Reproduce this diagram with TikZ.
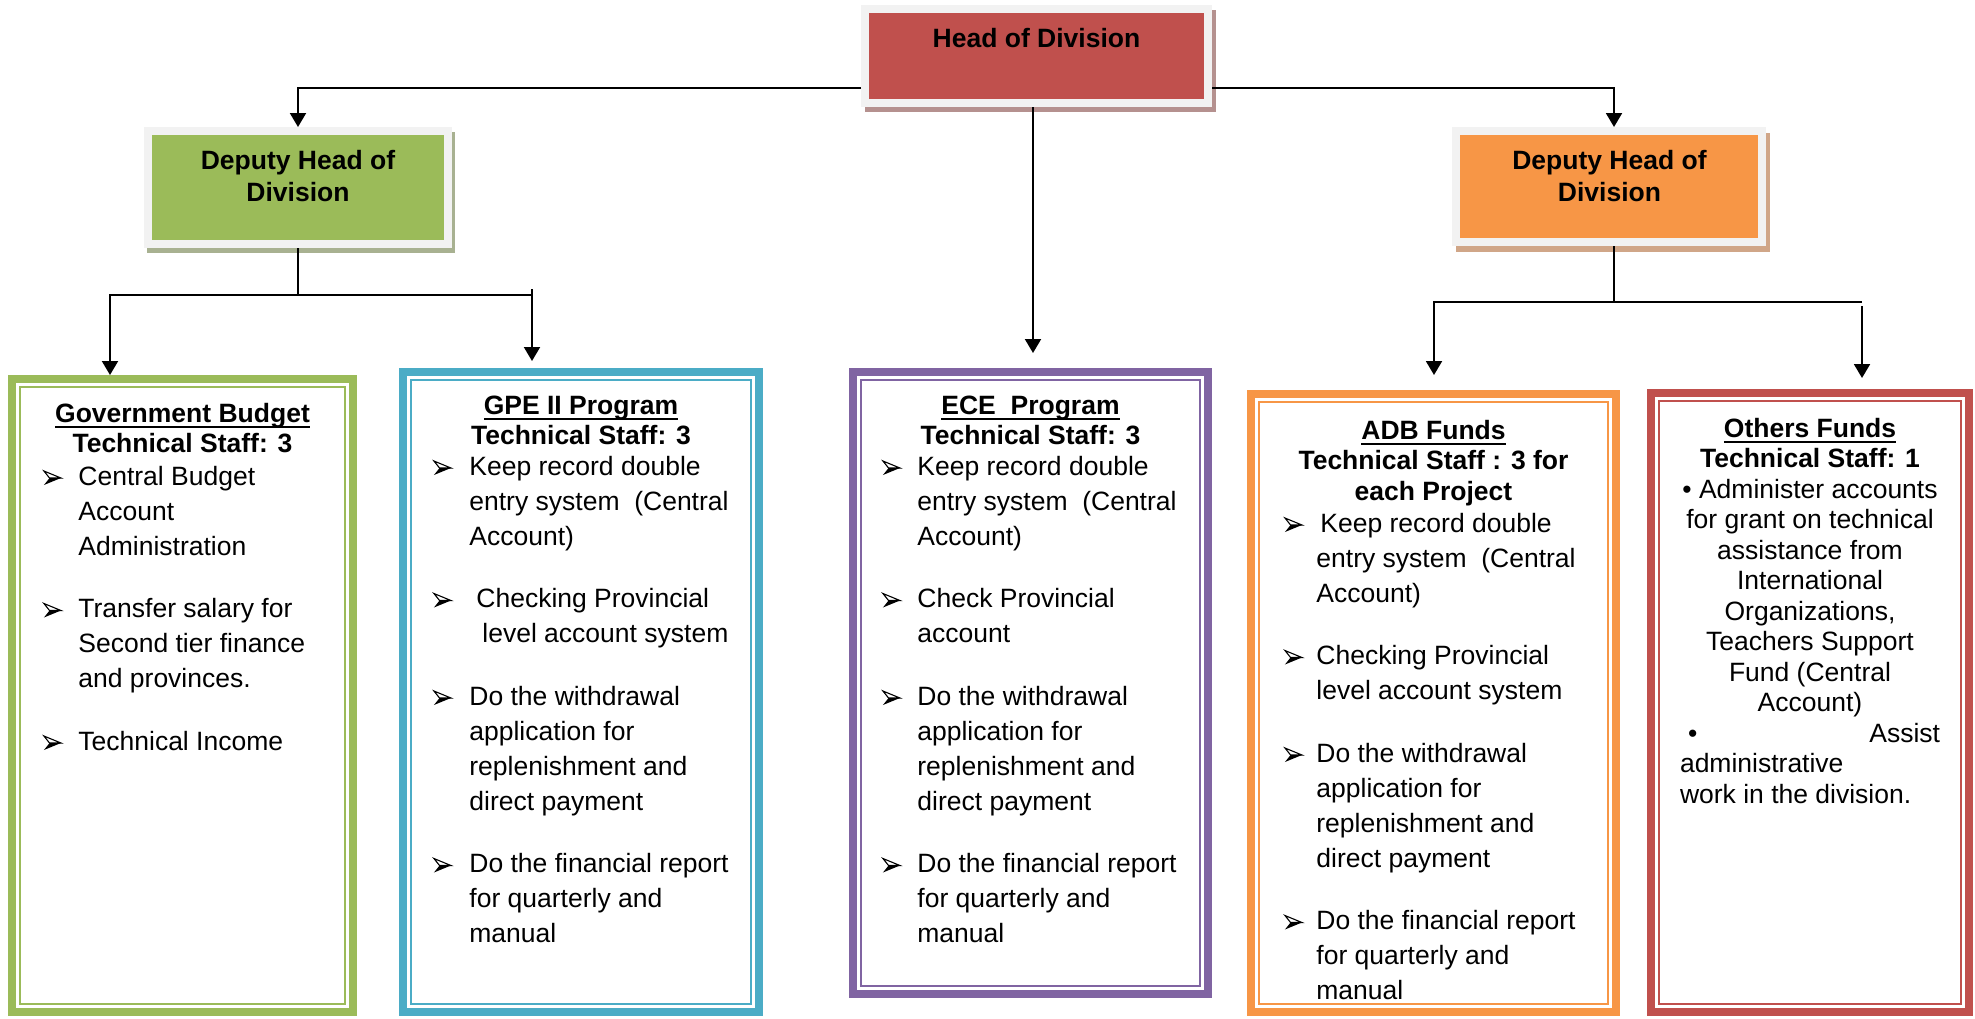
\documentclass[tikz,border=0pt]{standalone}
\usepackage{fontspec}
\setmainfont{Liberation Sans}
\usetikzlibrary{arrows.meta,calc}
\pgfdeclarelayer{background}
\pgfsetlayers{background,main}

\definecolor{hdred}{HTML}{C0504D}
\definecolor{dgreen}{HTML}{9BBB59}
\definecolor{dorange}{HTML}{F79646}
\definecolor{pblue}{HTML}{4BACC6}
\definecolor{ppurple}{HTML}{8064A2}
\definecolor{framegray}{HTML}{F2F2F2}
\definecolor{hdshadow}{HTML}{B5918F}
\definecolor{gshadow}{HTML}{A8B191}
\definecolor{oshadow}{HTML}{D0A688}

% underline sitting just below the baseline
\newcommand{\ulbox}[1]{\leavevmode\sbox0{#1}\rlap{\rule[-3.2pt]{\wd0}{1.1pt}}\usebox0}
% 3-D arrowhead bullet: outlined upper half, solid lower half
\newcommand{\pointer}{\tikz[baseline=0pt,x=1pt,y=1pt]{%
  \fill[black] (0,0) -- (8.5,3.5) -- (2.8,3.5) -- cycle;
  \draw[black, line width=0.55pt, line join=miter] (0,7) -- (8.5,3.5) -- (2.8,3.5) -- cycle;}}
% #1 hanging indent, #2 first-line text offset, #3 text
\newcommand{\hitem}[3]{\par\noindent\hangindent=#1\hangafter=1\makebox[#2][l]{\pointer}#3\par}
\newcommand{\itemgap}{\vspace{13.75pt}}

\tikzset{
  topbox/.style={draw=framegray, line width=4pt, inner sep=0pt},
  outbox/.style={draw=#1, line width=4pt, fill=white, inner sep=0pt},
  conn/.style={draw=black, line width=1pt, line join=miter},
  arr/.style={conn, -{Triangle[length=7pt,width=8pt]}},
  txt/.style={inner sep=0pt, anchor=base},
  listtxt/.style={inner sep=0pt, anchor=base west},
}

\begin{document}
\begin{tikzpicture}[x=0.5pt,y=-0.5pt]
\useasboundingbox (0,0) rectangle (1975,1018);

% ---- top level boxes
\node[topbox, fill=hdred, minimum width=171.5pt, minimum height=47pt] (head) at (1036.5,56) {};
\node[topbox, fill=dgreen, minimum width=150pt, minimum height=56.5pt] (gdep) at (298,187.5) {};
\node[topbox, fill=dorange, minimum width=153pt, minimum height=55.5pt] (odep) at (1609,186.5) {};

\begin{pgfonlayer}{background}
  \fill[hdshadow] ($(head.north west)+(4,5)$) rectangle ($(head.south east)+(4,5)$);
  \fill[gshadow] ($(gdep.north west)+(3,5)$) rectangle ($(gdep.south east)+(3,5)$);
  \fill[oshadow] ($(odep.north west)+(4,6)$) rectangle ($(odep.south east)+(4,6)$);
\end{pgfonlayer}

% ---- unit boxes (thick-thin border)
\node[outbox=dgreen, minimum width=170.5pt, minimum height=316.5pt] (gb) at (182.5,695.5) {};
\node[outbox=pblue, minimum width=178pt, minimum height=320pt] (gpe) at (581,692) {};
\node[outbox=ppurple, minimum width=177.5pt, minimum height=311pt] (ece) at (1030.5,683) {};
\node[outbox=dorange, minimum width=182.5pt, minimum height=309pt] (adb) at (1433.5,703) {};
\node[outbox=hdred, minimum width=159pt, minimum height=309.5pt] (oth) at (1810,702.5) {};
\foreach \n/\c in {gb/dgreen, gpe/pblue, ece/ppurple, adb/dorange, oth/hdred}
  \draw[\c, line width=1.2pt] ($(\n.north west)+(12,12)$) rectangle ($(\n.south east)+(-12,-12)$);

% ---- connectors
\draw[arr] ($(head.west)+(0,32)$) -| (gdep.north);
\draw[arr] ($(head.east)+(0,32)$) -| ($(odep.north)+(5,0)$);
\draw[arr, shorten >=7.5pt] ([xshift=-1.75pt]head.south) -- ([xshift=-1.75pt]head.south |- ece.north);

\coordinate (gsplit) at ($(gdep.south)+(0,47)$);
\coordinate (gL) at (110,295);
\coordinate (gR) at (532,295);
\draw[conn] (gdep.south) -- (gsplit);
\draw[arr] (gR) -- (gL) -- (gL |- gb.north);
\draw[arr, shorten >=3.5pt] ($(gR)+(0,-6)$) -- (gR |- gpe.north);

\coordinate (osplit) at ($(odep.south)+(5,56)$);
\coordinate (oL) at (1434,302);
\coordinate (oR) at (1862,302);
\draw[conn] ($(odep.south)+(5,0)$) -- (osplit);
\draw[arr, shorten >=7.5pt] (oR) -- (oL) -- (oL |- adb.north);
\draw[arr, shorten >=5.5pt] ($(oR)+(0,4)$) -- (oR |- oth.north);

% ---- top level texts
\node[txt, font=\bfseries\fontsize{13.25}{16}\selectfont] (headtxt) at (1036.5,47) {Head of Division};
\node[txt] (gdeptxt) at (298,169) {\begin{minipage}[t]{150pt}\centering\bfseries\fontsize{13.25}{16}\selectfont
  Deputy Head of\\Division\end{minipage}};
\node[txt] (odeptxt) at (1609.5,169) {\begin{minipage}[t]{150pt}\centering\bfseries\fontsize{13.25}{16}\selectfont
  Deputy Head of\\Division\end{minipage}};

% ---- unit titles
\node[txt] (gbtitle) at (182.5,422) {\begin{minipage}[t]{170pt}\centering\bfseries\fontsize{13.25}{15}\selectfont
  \ulbox{Government Budget}\\Technical Staff: 3\end{minipage}};
\node[txt] (gpetitle) at (581,414) {\begin{minipage}[t]{170pt}\centering\bfseries\fontsize{13.25}{15}\selectfont
  \ulbox{GPE II Program}\\Technical Staff: 3\end{minipage}};
\node[txt] (ecetitle) at (1030.5,414) {\begin{minipage}[t]{170pt}\centering\bfseries\fontsize{13.25}{15}\selectfont
  \ulbox{ECE\ \ Program}\\Technical Staff: 3\end{minipage}};
\node[txt] (adbtitle) at (1433.5,439) {\begin{minipage}[t]{170pt}\centering\bfseries\fontsize{13.25}{15.25}\selectfont
  \ulbox{ADB Funds}\\Technical Staff : 3 for\\each Project\end{minipage}};

% ---- unit task lists
\node[listtxt] (gblist) at (43,485) {\begin{minipage}[t]{200pt}\raggedright\fontsize{13.25}{17.5}\selectfont
  \hitem{17.5pt}{17.5pt}{Central Budget\newline Account\newline Administration}\itemgap
  \hitem{17.5pt}{17.5pt}{Transfer salary for\newline Second tier finance\newline and provinces.}\itemgap
  \hitem{17.5pt}{17.5pt}{Technical Income}
\end{minipage}};

\node[listtxt] (gpelist) at (433,475) {\begin{minipage}[t]{200pt}\raggedright\fontsize{13.25}{17.5}\selectfont
  \hitem{18pt}{18pt}{Keep record double\newline entry system\ \ (Central\newline Account)}\itemgap
  \hitem{24.5pt}{21.5pt}{Checking Provincial\newline level account system}\itemgap
  \hitem{18pt}{18pt}{Do the withdrawal\newline application for\newline replenishment and\newline direct payment}\itemgap
  \hitem{18pt}{18pt}{Do the financial report\newline for quarterly and\newline manual}
\end{minipage}};

\node[listtxt] (ecelist) at (882,475) {\begin{minipage}[t]{200pt}\raggedright\fontsize{13.25}{17.5}\selectfont
  \hitem{17.5pt}{17.5pt}{Keep record double\newline entry system\ \ (Central\newline Account)}\itemgap
  \hitem{17.5pt}{17.5pt}{Check Provincial\newline account}\itemgap
  \hitem{17.5pt}{17.5pt}{Do the withdrawal\newline application for\newline replenishment and\newline direct payment}\itemgap
  \hitem{17.5pt}{17.5pt}{Do the financial report\newline for quarterly and\newline manual}
\end{minipage}};

\node[listtxt] (adblist) at (1284,532) {\begin{minipage}[t]{200pt}\raggedright\fontsize{13.25}{17.5}\selectfont
  \hitem{16pt}{18pt}{Keep record double\newline entry system\ \ (Central\newline Account)}\itemgap
  \hitem{16pt}{16pt}{Checking Provincial\newline level account system}\itemgap
  \hitem{16pt}{16pt}{Do the withdrawal\newline application for\newline replenishment and\newline direct payment}\itemgap
  \hitem{16pt}{16pt}{Do the financial report\newline for quarterly and\newline manual}
\end{minipage}};

% ---- other funds
\node[txt] (othtxt) at (1810,437) {\begin{minipage}[t]{170pt}\centering\fontsize{13.25}{15.25}\selectfont
  \textbf{\ulbox{Others Funds}}\\
  \textbf{Technical Staff: 1}\\
  • Administer accounts\\
  for grant on technical\\
  assistance from\\
  International\\
  Organizations,\\
  Teachers Support\\
  Fund (Central\\
  Account)\\
  \makebox[130pt][l]{\hspace*{4pt}•\hfill Assist}\\
  \makebox[130pt][l]{administrative}\\
  \makebox[130pt][l]{work in the division.}
\end{minipage}};
\end{tikzpicture}
\end{document}
